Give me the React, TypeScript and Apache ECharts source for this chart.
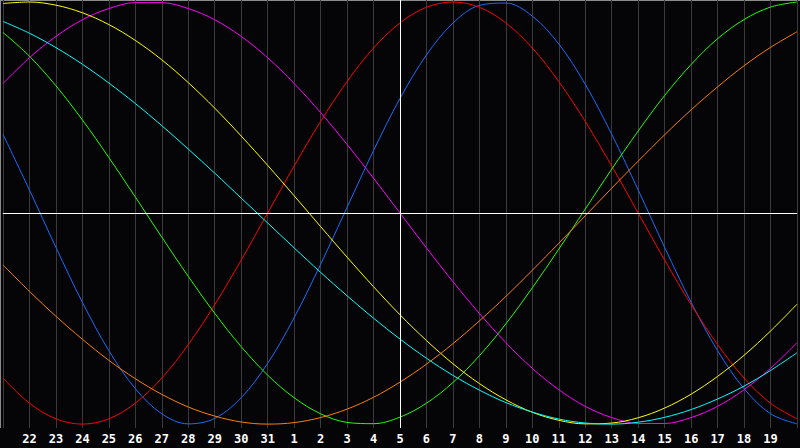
import React, { useEffect, useRef } from "react";
import * as echarts from "echarts";

// day of month along the bottom (first and last sit on the chart edges, unlabeled)
const days = [
  "21", "22", "23", "24", "25", "26", "27", "28", "29", "30", "31",
  "1", "2", "3", "4", "5", "6", "7", "8", "9", "10",
  "11", "12", "13", "14", "15", "16", "17", "18", "19", "20",
];
const todayIndex = 15;

// cycle values (-1 .. 1)
const physical = [0.373, 0.109, -0.163, -0.423, -0.652, -0.832, -0.951, -0.999, -0.973, -0.875, -0.712, -0.496, -0.243, 0.027, 0.296, 0.543, 0.749, 0.9, 0.984, 0.995, 0.933, 0.801, 0.61, 0.373, 0.109, -0.163, -0.423, -0.652, -0.832, -0.951, -0.999];
const emotional = [-0.782, -0.901, -0.975, -1, -0.975, -0.901, -0.782, -0.623, -0.434, -0.223, 0, 0.223, 0.434, 0.623, 0.782, 0.901, 0.975, 1, 0.975, 0.901, 0.782, 0.623, 0.434, 0.223, 0, -0.223, -0.434, -0.623, -0.782, -0.901, -0.975];
const intellectual = [0.856, 0.743, 0.603, 0.441, 0.263, 0.076, -0.114, -0.3, -0.475, -0.633, -0.768, -0.875, -0.951, -0.992, -0.998, -0.967, -0.901, -0.803, -0.676, -0.525, -0.354, -0.171, 0.019, 0.208, 0.389, 0.557, 0.704, 0.826, 0.917, 0.976, 1];
const intuitive = [0.614, 0.736, 0.837, 0.916, 0.969, 0.997, 0.997, 0.969, 0.916, 0.837, 0.736, 0.614, 0.476, 0.325, 0.165, 0, -0.165, -0.325, -0.476, -0.614, -0.736, -0.837, -0.916, -0.969, -0.997, -0.997, -0.969, -0.916, -0.837, -0.736, -0.614];
const aesthetic = [0.993, 1, 0.985, 0.949, 0.893, 0.818, 0.726, 0.618, 0.497, 0.365, 0.226, 0.082, -0.064, -0.209, -0.349, -0.482, -0.604, -0.714, -0.808, -0.885, -0.944, -0.982, -0.999, -0.995, -0.97, -0.924, -0.858, -0.774, -0.674, -0.559, -0.432];
const awareness = [-0.246, -0.371, -0.489, -0.598, -0.698, -0.785, -0.859, -0.919, -0.962, -0.99, -1, -0.993, -0.969, -0.929, -0.873, -0.801, -0.716, -0.619, -0.511, -0.395, -0.271, -0.143, -0.013, 0.118, 0.246, 0.371, 0.489, 0.598, 0.698, 0.785, 0.859];
const spiritual = [0.908, 0.852, 0.784, 0.705, 0.616, 0.519, 0.414, 0.303, 0.189, 0.071, -0.047, -0.165, -0.281, -0.392, -0.498, -0.597, -0.688, -0.769, -0.839, -0.898, -0.943, -0.976, -0.995, -1, -0.991, -0.968, -0.931, -0.881, -0.82, -0.746, -0.662];

const cycles = [
  { name: "Physical", data: physical, color: "#1a6cff" },
  { name: "Emotional", data: emotional, color: "#ff0000" },
  { name: "Intellectual", data: intellectual, color: "#22ff00" },
  { name: "Intuitive", data: intuitive, color: "#ff00ff" },
  { name: "Aesthetic", data: aesthetic, color: "#ffff00" },
  { name: "Awareness", data: awareness, color: "#ff8000" },
  { name: "Spiritual", data: spiritual, color: "#00ffff" },
];

const App: React.FC = () => {
  const chartRef = useRef<HTMLDivElement>(null);

  useEffect(() => {
    if (!chartRef.current) return;
    const chart = echarts.init(chartRef.current, undefined, { renderer: "svg" });

    const option = {
      animation: false,
      backgroundColor: "#050508",
      grid: { left: 0, right: 0, top: 0, bottom: 20, containLabel: false },
      xAxis: {
        type: "category",
        data: days,
        boundaryGap: false,
        axisLine: { show: true, lineStyle: { color: "#8c8c8c", width: 1 } },
        axisTick: { show: false },
        axisLabel: {
          interval: 0,
          color: "#ffffff",
          fontFamily: "DejaVu Sans Mono",
          fontWeight: "bold",
          fontSize: 12,
          margin: 5,
          formatter: (v: string, i: number) =>
            i === 0 || i === days.length - 1 ? "" : v,
        },
        splitLine: { show: true, lineStyle: { color: "#3a3a3a", width: 1 } },
      },
      yAxis: {
        type: "value",
        min: -1.0185,
        max: 1.0095,
        show: false,
        splitLine: { show: false },
      },
      graphic: [
        {
          type: "line",
          shape: { x1: 0, y1: 0.5, x2: 800, y2: 0.5 },
          style: { stroke: "#8c8c8c", lineWidth: 1 },
          silent: true,
        },
        {
          type: "line",
          shape: { x1: 0.5, y1: 0, x2: 0.5, y2: 428 },
          style: { stroke: "#8c8c8c", lineWidth: 1 },
          silent: true,
        },
      ],
      series: [
        {
          type: "line",
          data: [],
          silent: true,
          z: 1,
          markLine: {
            silent: true,
            symbol: "none",
            label: { show: false },
            lineStyle: { color: "#ffffff", type: "solid", width: 1 },
            data: [{ xAxis: todayIndex }, { yAxis: 0 }],
          },
        },
        ...cycles.map((c) => ({
          name: c.name,
          type: "line",
          data: c.data,
          smooth: 0.35,
          clip: false,
          showSymbol: false,
          silent: true,
          z: 3,
          lineStyle: { color: c.color, width: 1 },
          itemStyle: { color: c.color },
        })),
      ],
    };

    chart.setOption(option as echarts.EChartsOption);
    return () => {
      chart.dispose();
    };
  }, []);

  return (
    <div
      ref={chartRef}
      style={{ position: "fixed", left: 0, top: 0, width: "800px", height: "448px" }}
    />
  );
};

export default App;
